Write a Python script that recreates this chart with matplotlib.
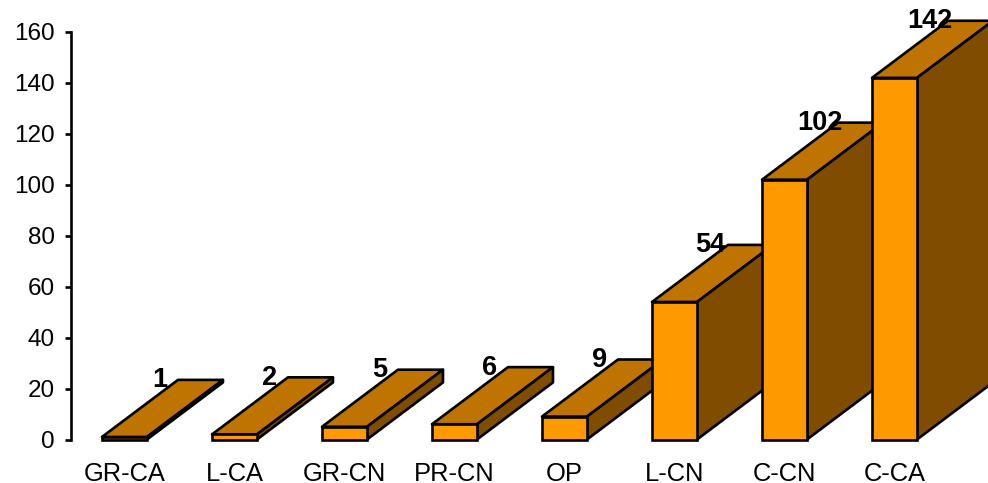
import matplotlib
matplotlib.use("Agg")
import matplotlib.pyplot as plt
from matplotlib.patches import Polygon

categories = ["GR-CA", "L-CA", "GR-CN", "PR-CN", "OP", "L-CN", "C-CN", "C-CA"]
values = [1, 2, 5, 6, 9, 54, 102, 142]
yticks = [0, 20, 40, 60, 80, 100, 120, 140, 160]

W, H = 988, 483
plt.rcParams["font.family"] = ["Liberation Sans", "DejaVu Sans"]
fig = plt.figure(figsize=(W / 100, H / 100), dpi=100)
ax = fig.add_axes([71 / W, 1 - 439.5 / H, (W - 71) / W, (439.5 - 32) / H])
ax.patch.set_alpha(0)

ax.set_xlim(-0.486, 7.85)
ax.set_ylim(0, 160)
bw = 45 / 110
ddx = 76 / 110
ddy = 57 / (407 / 160)
lw = 1.9

for i, v in enumerate(values):
    z = 3 + i
    l, r = i - bw / 2, i + bw / 2
    ax.bar(i, v, width=bw, facecolor="#FF9900", edgecolor="black", linewidth=lw,
           clip_on=False, zorder=z + 0.2)
    top = [(l, v), (r, v), (r + ddx, v + ddy), (l + ddx, v + ddy)]
    side = [(r, 0), (r + ddx, ddy), (r + ddx, v + ddy), (r, v)]
    for pts, col in ((top, "#BF7300"), (side, "#7F4C00")):
        ax.add_patch(Polygon(pts, closed=True, facecolor=col, edgecolor="black",
                             linewidth=lw, joinstyle="round", clip_on=False, zorder=z))
    ax.text(i + 0.32, v + ddy - 0.2, str(v), ha="center", va="center", fontsize=19.5,
            fontweight="bold", color="black", zorder=30, clip_on=False)

for s in ("top", "right", "bottom"):
    ax.spines[s].set_visible(False)
ax.spines["left"].set_linewidth(lw)
ax.spines["left"].set_color("black")

ax.set_yticks(yticks)
ax.set_xticks(range(len(categories)))
ax.set_xticklabels(categories)
ax.tick_params(axis="y", length=4.5, width=lw, labelsize=17.5, pad=7, color="black")
ax.tick_params(axis="x", length=0, labelsize=18.4, pad=16)

fig.savefig("out.png", dpi=100, facecolor="white")
